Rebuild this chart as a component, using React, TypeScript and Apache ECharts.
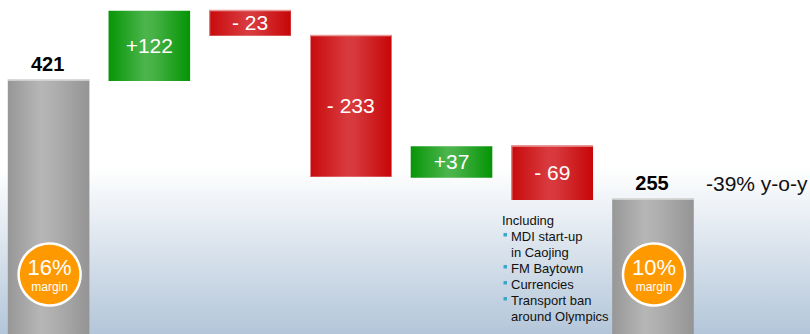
import React, { useEffect, useRef } from "react";
import * as echarts from "echarts";

// Waterfall steps (hidden category axis)
const categories = ["Start", "Step 1", "Step 2", "Step 3", "Step 4", "Step 5", "End"];
const kinds = ["total", "up", "down", "down", "up", "down", "total"];
const values = [421, 122, -23, -233, 37, -69, 255];
// Bar extents as drawn in the picture (chart value units; the original is not to scale)
const barLow = [66, 419, 482, 285.5, 284, 253, 66];
const barHigh = [421, 517, 518, 483, 328, 329, 255];
const marginLabels = ["16%", "", "", "", "", "", "10%"];
const yoyLabel = "-39% y-o-y";
const noteLines = [
  { text: "Including", bullet: false, indent: false },
  { text: "MDI start-up", bullet: true, indent: true },
  { text: "in Caojing", bullet: false, indent: true },
  { text: "FM Baytown", bullet: true, indent: true },
  { text: "Currencies", bullet: true, indent: true },
  { text: "Transport ban", bullet: true, indent: true },
  { text: "around Olympics", bullet: false, indent: true },
];

const FONT = "'Liberation Sans', Arial, Helvetica, sans-serif";

function fmt(v: number, kind: string) {
  if (kind === "total") return String(v);
  return v > 0 ? "+" + v : "- " + Math.abs(v);
}

function grad(stops: [number, string][]) {
  return {
    type: "linear",
    x: 0,
    y: 0,
    x2: 1,
    y2: 0,
    colorStops: stops.map(([offset, color]) => ({ offset, color })),
  };
}

const fills: Record<string, any> = {
  total: grad([
    [0, "#979797"],
    [0.4, "#b6b6b6"],
    [0.55, "#b0b0b0"],
    [1, "#949494"],
  ]),
  up: grad([
    [0, "#079507"],
    [0.45, "#4cb54c"],
    [0.55, "#47b247"],
    [1, "#059405"],
  ]),
  down: grad([
    [0, "#c80a0c"],
    [0.45, "#d83a3e"],
    [0.55, "#d6383c"],
    [1, "#c70608"],
  ]),
};

export default function App() {
  const ref = useRef<HTMLDivElement>(null);
  useEffect(() => {
    if (!ref.current) return;
    const chart = echarts.init(ref.current, undefined, { renderer: "svg" });
    const data = categories.map((_, i) => [i, barLow[i], barHigh[i]]);

    const noteGraphics: any[] = [];
    noteLines.forEach((ln, k) => {
      const cy = 220 + k * 16;
      noteGraphics.push({
        type: "text",
        x: ln.indent ? 511 : 502,
        y: cy,
        style: {
          text: ln.text,
          fill: "#111",
          font: `13px ${FONT}`,
          textVerticalAlign: "middle",
          textAlign: "left",
        },
        z: 10,
      });
      if (ln.bullet) {
        noteGraphics.push({
          type: "rect",
          shape: { x: 503.5, y: cy - 3, width: 3.5, height: 3.5 },
          style: { fill: "#3aa6c9" },
          z: 10,
        });
      }
    });

    chart.setOption({
      animation: false,
      grid: { left: 0, right: 0, top: 0, bottom: 0 },
      xAxis: {
        type: "value",
        min: -0.4825,
        max: 7.5589,
        show: false,
      },
      yAxis: {
        type: "value",
        min: 66,
        max: 532,
        show: false,
      },
      graphic: [
        {
          type: "rect",
          shape: { x: 0, y: 0, width: 810, height: 334 },
          style: {
            fill: {
              type: "linear",
              x: 0,
              y: 0,
              x2: 0,
              y2: 1,
              colorStops: [
                { offset: 0, color: "#ffffff" },
                { offset: 0.5, color: "#ffffff" },
                { offset: 1, color: "#b3c6d9" },
              ],
            },
          },
          z: -10,
          silent: true,
        },
        {
          type: "text",
          x: 706,
          y: 183,
          style: {
            text: yoyLabel,
            fill: "#111",
            font: `21px ${FONT}`,
            textVerticalAlign: "middle",
            textAlign: "left",
          },
          z: 10,
        },
        ...noteGraphics,
      ],
      series: [
        {
          type: "custom",
          z: 5,
          data,
          renderItem: (params: any, api: any) => {
            const i = api.value(0);
            const lo = api.value(1);
            const hi = api.value(2);
            const pTop = api.coord([i, hi]);
            const pBot = api.coord([i, lo]);
            const w = api.size([0.81, 0])[0];
            const cx = pTop[0];
            const x = cx - w / 2;
            const h = pBot[1] - pTop[1];
            const kind = kinds[i];
            const children: any[] = [
              {
                type: "rect",
                shape: { x, y: pTop[1], width: w, height: h },
                style: { fill: fills[kind] },
              },
            ];
            if (kind !== "up") {
              children.push({
                type: "line",
                shape: { x1: x, y1: pTop[1] + 0.5, x2: x + w, y2: pTop[1] + 0.5 },
                style: { stroke: kind === "total" ? "#dcdcdc" : "#eb9a9a", lineWidth: 1.5 },
              });
            }
            if (kind === "down") {
              children.push({
                type: "line",
                shape: { x1: x + 0.5, y1: pTop[1], x2: x + 0.5, y2: pBot[1] },
                style: { stroke: "#e58a8a", lineWidth: 1 },
              });
            }
            if (kind === "total") {
              children.push({
                type: "text",
                x: cx - 1,
                y: pTop[1] - 16,
                style: {
                  text: fmt(values[i], kind),
                  fill: "#000",
                  font: `bold 20px ${FONT}`,
                  textAlign: "center",
                  textVerticalAlign: "middle",
                },
              });
              const ccx = cx + 1;
              const ccy = pBot[1] - 59.5;
              children.push({
                type: "circle",
                shape: { cx: ccx, cy: ccy, r: 31 },
                style: { fill: "#ff9900", stroke: "#ffffff", lineWidth: 2.5 },
              });
              children.push({
                type: "text",
                x: ccx,
                y: ccy - 7,
                style: {
                  text: marginLabels[i],
                  fill: "#fff",
                  font: `22px ${FONT}`,
                  textAlign: "center",
                  textVerticalAlign: "middle",
                },
              });
              children.push({
                type: "text",
                x: ccx,
                y: ccy + 12,
                style: {
                  text: "margin",
                  fill: "#fff",
                  font: `12px ${FONT}`,
                  textAlign: "center",
                  textVerticalAlign: "middle",
                },
              });
            } else {
              children.push({
                type: "text",
                x: cx,
                y: pTop[1] + h / 2,
                style: {
                  text: fmt(values[i], kind),
                  fill: "#fff",
                  font: `21px ${FONT}`,
                  textAlign: "center",
                  textVerticalAlign: "middle",
                },
              });
            }
            return { type: "group", children };
          },
        },
      ],
    });
    return () => chart.dispose();
  }, []);

  return (
    <div
      ref={ref}
      style={{ position: "absolute", left: 0, top: 0, width: 810, height: 334 }}
    />
  );
}
